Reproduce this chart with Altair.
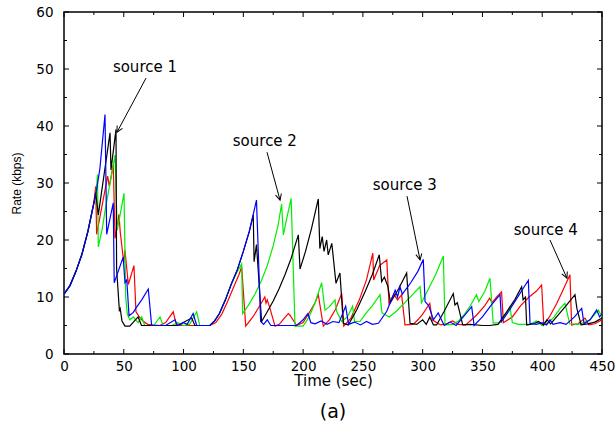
import math
import altair as alt
import pandas as pd

# ---- rate traces (time in sec, rate in kbps) ----
s1_time = [0, 5, 10, 15, 20, 25, 26.5, 28.7, 38.5, 39.3,
           43.5, 44, 46.3, 47, 48.5, 51, 55, 62, 64.8, 80,
           95, 106.8, 109.5, 122, 126, 130, 135, 140, 145, 150,
           155, 158.3, 159, 161, 165.3, 170, 175, 180, 185, 190,
           196, 197.4, 202, 207, 212.7, 214, 216, 217.5, 219.7, 221,
           224, 227.5, 230.8, 233.6, 237.8, 245, 252, 258, 263.7, 265.7,
           268, 271, 273, 280, 286.6, 289.4, 295, 300, 303, 306,
           309, 311.7, 318, 325.6, 327, 329, 333.5, 340, 350, 356,
           363, 370, 377, 382.8, 384, 386, 387, 393, 397, 401,
           404, 407, 412, 420, 427.4, 429, 432.5, 438, 444, 450]
s1_rate = [10.5, 12, 14.5, 17.5, 21.5, 26.5, 28.3, 24.4, 38.8, 32.3,
           39.4, 15, 7.7, 8, 5.8, 4.9, 4.9, 6.5, 5, 5,
           5, 6.3, 5, 5, 5.8, 7.1, 9.5, 12.3, 14.8, 18,
           21.5, 24.4, 16.2, 19.2, 5.7, 7.4, 9.3, 11.5, 14, 16.8,
           20.9, 14.9, 18, 22, 27.2, 18.5, 20.6, 18, 20, 17.4,
           19.4, 12.4, 14.2, 5.4, 5.1, 7.8, 11, 14, 17.4, 12.7,
           13.5, 11.8, 9, 11.5, 14.2, 5.4, 5.2, 6, 5.2, 6.5,
           5.1, 5.1, 7.5, 10.6, 8.6, 9, 5.1, 5.2, 5, 5,
           5.2, 7.3, 9.5, 11.8, 9.5, 10, 5.1, 5.3, 5.7, 5.1,
           6, 5.3, 6.5, 8.5, 10.4, 8, 5.1, 5.3, 5.6, 6.3]

s2_time = [0, 5, 10, 15, 20, 25, 27, 28, 28.7, 32,
           35, 39, 42.7, 44.5, 47, 50.2, 51.6, 53, 55, 58,
           60, 62, 65, 67.5, 75, 80.3, 83, 90, 95, 100,
           105, 111, 113.5, 122, 126, 130, 135, 140, 145, 148.6,
           149.4, 155, 160, 165, 170, 175, 179, 182, 183.5, 186,
           190, 193.2, 200, 205, 210, 215.5, 218.3, 222, 226.7, 228,
           232.3, 237, 241.4, 243, 247.6, 252, 258, 264.3, 266, 272,
           278, 285, 292, 297.8, 299, 305, 311, 317.3, 318.7, 325,
           330, 335, 340, 345, 347, 352, 356.3, 359, 365, 370,
           373, 375, 380, 390, 395, 400, 405, 410, 415, 419,
           423, 430, 435, 440, 447, 450]
s2_rate = [10.5, 12, 14.5, 17.5, 21.5, 26.5, 28.5, 31.5, 18.8, 22,
           26, 30.5, 34.9, 21.7, 24.5, 28.2, 10, 7, 6, 6.5,
           6, 5.5, 6.5, 5, 5, 6.5, 5, 5, 5.5, 5,
           5.2, 7.4, 5, 5, 5.8, 7.1, 9.5, 12.3, 14.5, 15.8,
           7.1, 8.8, 10.6, 12.8, 15.5, 19, 22.5, 26.3, 20.9, 23.5,
           27.3, 4.9, 4.9, 6.5, 9, 12.5, 7.7, 8.3, 9.5, 7.5,
           5.7, 6.5, 8.4, 5.7, 5.7, 7, 8.5, 10.4, 7.2, 6.5,
           7.5, 9, 10.5, 11.8, 9, 11.5, 14, 17.2, 5.1, 5.2,
           5.8, 7, 8.5, 10.4, 9.2, 11, 13.3, 5.4, 5.5, 7,
           8.3, 5.5, 5.2, 5.2, 5.8, 5, 5.5, 6.5, 8, 8.9,
           5.3, 5.2, 5.5, 6, 7.7, 6.5]

s3_time = [0, 5, 10, 15, 20, 25, 27, 30, 34.3, 35.7,
           41.2, 42, 49.5, 51, 52.5, 54.4, 58, 60, 65, 70.5,
           73.3, 85, 92.8, 95, 100, 103, 108, 111, 122, 126,
           130, 135, 140, 145, 150, 155, 158.3, 161, 164.5, 167,
           170, 173, 180, 194.6, 200, 204, 206.5, 210, 215, 220,
           225, 230, 235.6, 238, 243, 248, 253, 258, 263, 270,
           277, 279, 281, 283, 290, 296, 300.5, 302, 305, 309,
           313, 318, 323, 328, 334, 341, 343, 350, 357, 364.7,
           366, 372, 378, 384, 388.4, 389.8, 395, 400, 403.7, 406.5,
           409, 415, 420, 427, 433, 435, 440, 445.5, 448, 450]
s3_rate = [10.5, 12, 14.5, 17.5, 21.5, 26.5, 28.5, 32.5, 42, 21,
           26.5, 12.5, 17, 12.5, 13, 6.7, 7.3, 8, 9.5, 11.4,
           5, 5, 6, 5, 5.5, 5.2, 7.1, 5, 5, 5.8,
           7.1, 9.5, 12.3, 14.8, 18, 21.5, 24.5, 27, 5.7, 5.2,
           6, 5, 5, 5, 6, 7.1, 5.5, 5.3, 5.8, 5.2,
           5.7, 5.5, 8.4, 5.2, 5.6, 5.1, 5.7, 5.2, 5.4, 7.5,
           11.2, 10, 11.8, 10.5, 12.5, 14.5, 16.6, 9.2, 8.5, 6,
           7.2, 5, 5.6, 5, 6.5, 8.3, 5, 6.5, 8.5, 10.4,
           5.7, 7.5, 9.5, 11.5, 12.9, 5.4, 5.2, 5.5, 5.1, 6,
           5.2, 5.5, 5.2, 6.5, 8, 5.3, 6, 7.7, 6.5, 7]

s4_time = [0, 5, 10, 15, 20, 25, 26.5, 27.3, 36.5, 37.9,
           41.2, 42.7, 46, 47, 50, 51, 53.8, 58.5, 60.2, 63,
           66, 70, 80, 85, 91.4, 94, 100, 110, 122, 127,
           132, 137, 142, 146.5, 148.6, 152, 158, 163, 168, 169,
           170, 172.3, 176.5, 180, 184, 187.6, 189, 194.6, 200, 205,
           210, 212.7, 216.9, 222, 227, 232.3, 234, 240, 247, 253,
           258.3, 259, 264, 270, 271.8, 276, 279, 282.4, 285.2, 292,
           296, 300, 306, 308, 312, 315, 320, 325, 330, 336,
           345, 352, 356, 358, 362, 366, 367.5, 375, 382, 389,
           395, 399.5, 401.3, 406, 412, 418, 423.2, 424.6, 430, 435.8,
           439, 444, 450]
s4_rate = [10.5, 12, 14.5, 17.5, 21.5, 26.5, 29.4, 21, 31.2, 29.4,
           33.2, 20.3, 24.5, 21.5, 16, 18.2, 12.2, 15.5, 7.4, 6.5,
           5.8, 5.2, 5, 5.5, 7.4, 5, 5, 5, 5, 5.5,
           7, 9.3, 11.8, 14, 15.3, 4.9, 6.5, 8.2, 10, 8.9,
           9.5, 8, 4.9, 5.2, 6.2, 7.1, 6.8, 5, 5.5, 7.2,
           9, 10.4, 4.9, 6, 7.8, 10.6, 4.9, 6.3, 9.5, 13,
           17.7, 13, 15.5, 16.5, 8.9, 10.5, 9.5, 10.4, 5.1, 5.2,
           6, 7, 8.9, 6, 5.5, 5.1, 5.3, 5.8, 5.2, 5.1,
           6.8, 8.5, 9.8, 9, 10, 10.9, 5.5, 6.5, 8.5, 10,
           11, 12.1, 5.1, 6.5, 8.8, 11.5, 13.9, 5.1, 5.3, 6.3,
           5.1, 5.3, 6]

# ---- annotations ----
note_text = ["source 1", "source 2", "source 3", "source 4"]
note_x = [67.7, 168, 285, 403]
note_y = [50.4, 37.4, 29.6, 21.8]
arrow_x0 = [68.6, 169.8, 286.9, 406.5]
arrow_y0 = [48.4, 35.4, 27.7, 20.0]
arrow_x1 = [44.3, 180.7, 297.8, 420.7]
arrow_y1 = [38.9, 27.0, 16.5, 13.3]

x_major = list(range(0, 451, 50))
x_minor = list(range(25, 451, 50))
y_major = list(range(0, 61, 10))
y_minor = list(range(5, 60, 10))

W, H = 538, 342
FONT = "DejaVu Sans"
xs = alt.Scale(domain=[0, 450], nice=False, zero=False)
ys = alt.Scale(domain=[0, 60], nice=False, zero=False)

x_axis = alt.Axis(values=x_major, ticks=False, domain=False, grid=False,
                  labelFontSize=13.5, labelPadding=5, labelFlush=False,
                  labelColor="black", labelFont=FONT,
                  title="Time (sec)", titleFontSize=15, titleFont=FONT,
                  titleFontWeight="normal", titleColor="black", titlePadding=1)
y_axis = alt.Axis(values=y_major, ticks=False, domain=False, grid=False,
                  labelFontSize=13.5, labelPadding=11, labelFlush=False,
                  labelColor="black", labelFont=FONT,
                  title="Rate (kbps)", titleFontSize=12, titleFont="Liberation Sans",
                  titleFontWeight="normal", titleColor="black", titlePadding=12)


def trace(t, r, color):
    df = pd.DataFrame({"t": t, "rate": r, "i": list(range(len(t)))})
    return alt.Chart(df).mark_line(color=color, strokeWidth=1.2, clip=True).encode(
        x=alt.X("t:Q", scale=xs, axis=x_axis),
        y=alt.Y("rate:Q", scale=ys, axis=y_axis),
        order="i:Q",
    )


def x_ticks(vals, length):
    df = pd.DataFrame({"v": vals})
    base = alt.Chart(df).mark_rule(color="black", strokeWidth=1)
    bottom = base.encode(x=alt.X("v:Q", scale=xs), y=alt.value(H), y2=alt.value(H - length))
    top = base.encode(x=alt.X("v:Q", scale=xs), y=alt.value(0), y2=alt.value(length))
    return bottom + top


def y_ticks(vals, length):
    df = pd.DataFrame({"v": vals})
    base = alt.Chart(df).mark_rule(color="black", strokeWidth=1)
    left = base.encode(y=alt.Y("v:Q", scale=ys), x=alt.value(0), x2=alt.value(length))
    right = base.encode(y=alt.Y("v:Q", scale=ys), x=alt.value(W), x2=alt.value(W - length))
    return left + right


notes = pd.DataFrame({"label": note_text, "tx": note_x, "ty": note_y})
kx, ky = W / 450, H / 60
angles = []
for a, b, c, d in zip(arrow_x0, arrow_y0, arrow_x1, arrow_y1):
    ang = math.degrees(math.atan2(-(d - b) * ky, (c - a) * kx)) % 360
    angles.append(ang)
arrows = pd.DataFrame({"x0": arrow_x0, "y0": arrow_y0, "x1": arrow_x1,
                       "y1": arrow_y1, "ang": angles})

note_layer = alt.Chart(notes).mark_text(fontSize=15, font=FONT, color="black",
                                        align="center", baseline="middle").encode(
    x=alt.X("tx:Q", scale=xs), y=alt.Y("ty:Q", scale=ys), text="label:N")
shaft_layer = alt.Chart(arrows).mark_rule(color="black", strokeWidth=1).encode(
    x=alt.X("x0:Q", scale=xs), y=alt.Y("y0:Q", scale=ys), x2="x1:Q", y2="y1:Q")
head_layer = alt.Chart(arrows).mark_point(
    shape="M -1 -0.5 L 0 0 L -1 0.5", size=144, filled=False,
    color="black", strokeWidth=1, opacity=1).encode(
    x=alt.X("x1:Q", scale=xs), y=alt.Y("y1:Q", scale=ys),
    angle=alt.Angle("ang:Q", scale=None))

caption = alt.Chart(pd.DataFrame({"c": ["(a)"]})).mark_text(
    fontSize=19, font=FONT, color="black", align="center", baseline="middle").encode(
    text="c:N", x=alt.value(W / 2), y=alt.value(400))

chart = alt.layer(
    trace(s4_time, s4_rate, "#ff0000"),
    trace(s2_time, s2_rate, "#00ee00"),
    trace(s1_time, s1_rate, "#000000"),
    trace(s3_time, s3_rate, "#0000ff"),
    x_ticks(x_major, 5), x_ticks(x_minor, 3),
    y_ticks(y_major, 5), y_ticks(y_minor, 3),
    shaft_layer, head_layer, note_layer, caption,
).properties(
    width=W, height=H,
    autosize=alt.AutoSizeParams(type="none"),
    padding={"left": 64, "top": 12, "right": 14, "bottom": 80},
    background="white",
).configure_view(stroke="black", strokeWidth=1.5)

chart.save("out.html", embed_options={"renderer": "svg", "actions": False})
